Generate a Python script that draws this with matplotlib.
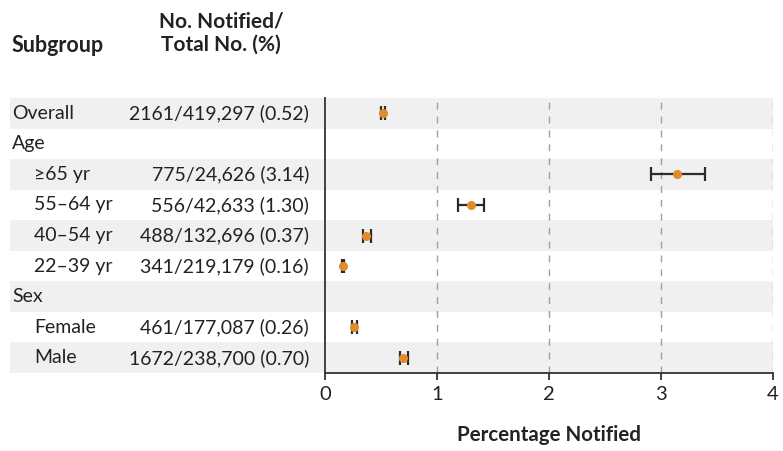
import numpy as np
import matplotlib
matplotlib.use("Agg")
import matplotlib.pyplot as plt

plt.rcParams["font.family"] = ["Lato", "DejaVu Sans"]

# rows of the table, top to bottom
labels = ["Overall", "Age", "\u226565 yr", "55\u201364 yr", "40\u201354 yr", "22\u201339 yr", "Sex", "Female", "Male"]
indented = [False, False, True, True, True, True, False, True, True]
counts = ["2161/419,297 (0.52)", "", "775/24,626 (3.14)", "556/42,633 (1.30)", "488/132,696 (0.37)",
          "341/219,179 (0.16)", "", "461/177,087 (0.26)", "1672/238,700 (0.70)"]
pct = [0.52, np.nan, 3.14, 1.30, 0.37, 0.16, np.nan, 0.26, 0.70]
ci_low = [0.50, np.nan, 2.91, 1.19, 0.34, 0.15, np.nan, 0.24, 0.67]
ci_high = [0.54, np.nan, 3.39, 1.42, 0.41, 0.17, np.nan, 0.29, 0.74]
xticks = [0, 1, 2, 3, 4]

W, H = 783, 451
fig = plt.figure(figsize=(W / 100, H / 100), dpi=100)
left_px, right_px, top_px, bottom_px = 325, 773, 98, 373
ax = fig.add_axes([left_px / W, 1 - bottom_px / H, (right_px - left_px) / W, (bottom_px - top_px) / H])

n = len(labels)
ax.set_xlim(0, 4)
ax.set_ylim(n - 0.5, -0.5)

# alternating shaded bands across the table and plot
band_x0 = (10 - left_px) / (right_px - left_px)
for i in range(0, n, 2):
    ax.axhspan(i - 0.5, i + 0.5, xmin=band_x0, xmax=1, color="#f0f0f0", lw=0, zorder=0, clip_on=False)

for x in xticks[1:]:
    ax.axvline(x, color="#a0a0a0", lw=1, ls=(0, (5, 5)), zorder=1)

pct = np.array(pct)
err = np.array([pct - np.array(ci_low), np.array(ci_high) - pct])
y = np.arange(n)
ax.errorbar(pct, y, xerr=err, fmt="o", color="#e38a2a", ms=5.5, ecolor="#2b2b2b",
            elinewidth=1.6, capsize=5, capthick=1.6, zorder=3)

for s in ["top", "right"]:
    ax.spines[s].set_visible(False)
ax.spines["left"].set_color("#333333")
ax.spines["bottom"].set_color("#333333")
ax.spines["left"].set_linewidth(1.3)
ax.spines["bottom"].set_linewidth(1.3)
ax.set_yticks([])
ax.set_xticks(xticks)
ax.tick_params(axis="x", length=5, width=1.3, color="#333333", labelsize=14.5, labelcolor="#222222", pad=4)
ax.set_xlabel("Percentage Notified", fontsize=14.8, fontweight="bold", color="#222222", labelpad=16)

# table text
for i in range(n):
    yf = 1 - (top_px + (i + 0.5) * (bottom_px - top_px) / n) / H
    xl = 34 if indented[i] else 12
    fig.text(xl / W, yf, labels[i], fontsize=14, color="#222222", va="center", ha="left")
    if counts[i]:
        fig.text(309 / W, yf, counts[i], fontsize=14, color="#222222", va="center", ha="right")

fig.text(12 / W, 1 - 45 / H, "Subgroup", fontsize=15.5, fontweight="bold", color="#222222", va="center", ha="left")
fig.text(221 / W, 1 - 33 / H, "No. Notified/\nTotal No. (%)", fontsize=15, fontweight="bold", color="#222222",
         va="center", ha="center", linespacing=1.2)

fig.savefig("out.png", dpi=100)
